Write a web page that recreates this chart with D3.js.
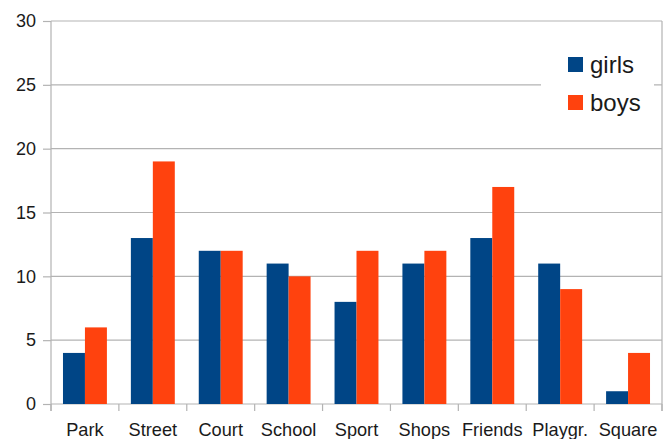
<!DOCTYPE html>
<html>
<head>
<meta charset="utf-8">
<script src="https://cdn.jsdelivr.net/npm/d3@7"></script>
<style>
  html, body { margin: 0; padding: 0; background: #fff; }
  svg { display: block; font-family: "Liberation Sans", Arial, sans-serif; }
</style>
</head>
<body>
<svg id="chart" width="672" height="439"></svg>
<script>
const categories = ["Park", "Street", "Court", "School", "Sport", "Shops", "Friends", "Playgr.", "Square"];
const seriesNames = ["girls", "boys"];
const girls = [4, 13, 12, 11, 8, 11, 13, 11, 1];
const boys = [6, 19, 12, 10, 12, 12, 17, 9, 4];
const yTicks = [0, 5, 10, 15, 20, 25, 30];
const colors = ["#004586", "#ff420e"];

const svg = d3.select("#chart");
const plotLeft = 51, plotRight = 662, plotTop = 21, plotBottom = 404;
const gridColor = "#b3b3b3";
const textColor = "#1a1a1a";

const x = d3.scaleBand().domain(categories).range([plotLeft, plotRight])
  .paddingInner(0.353).paddingOuter(0.1765);
const xs = d3.scaleBand().domain(seriesNames).range([0, x.bandwidth()]);
const y = d3.scaleLinear().domain([0, 30]).range([plotBottom, plotTop]);

// horizontal gridlines
svg.append("g").selectAll("line").data(yTicks).join("line")
  .attr("x1", plotLeft).attr("x2", plotRight)
  .attr("y1", d => y(d)).attr("y2", d => y(d))
  .attr("stroke", gridColor).attr("stroke-width", 1.2);

// right border
svg.append("line").attr("x1", plotRight).attr("x2", plotRight)
  .attr("y1", plotTop).attr("y2", plotBottom + 7)
  .attr("stroke", gridColor).attr("stroke-width", 1.2);

// bars
const rows = categories.map((c, i) => ({ c, vals: [girls[i], boys[i]] }));
const groups = svg.append("g").selectAll("g").data(rows).join("g")
  .attr("transform", d => `translate(${x(d.c)},0)`);
groups.selectAll("rect").data(d => d.vals.map((v, j) => ({ s: seriesNames[j], v, j })))
  .join("rect")
  .attr("x", d => xs(d.s))
  .attr("width", xs.bandwidth())
  .attr("y", d => y(d.v))
  .attr("height", d => y(0) - y(d.v))
  .attr("fill", d => colors[d.j]);

// y axis
const yAxis = d3.axisLeft(y).tickValues(yTicks).tickSize(8).tickPadding(7);
const gy = svg.append("g").attr("transform", `translate(${plotLeft},0)`).call(yAxis);
gy.select(".domain").attr("stroke", gridColor).attr("stroke-width", 1.2)
  .attr("d", `M0,${plotTop}V${plotBottom + 7}`);
gy.selectAll(".tick line").attr("stroke", gridColor).attr("stroke-width", 1.2);
gy.selectAll(".tick text").attr("fill", textColor)
  .style("font-size", "18px").style("font-family", "Liberation Sans, Arial, sans-serif");

// x axis: ticks at category boundaries
const bounds = categories.map(c => x(c) - x.step() * x.paddingInner() / 2).concat([plotRight]);
svg.append("g").selectAll("line").data(bounds).join("line")
  .attr("x1", d => d).attr("x2", d => d)
  .attr("y1", plotBottom).attr("y2", plotBottom + 7)
  .attr("stroke", gridColor).attr("stroke-width", 1.2);
svg.append("g").selectAll("text").data(categories).join("text")
  .attr("x", d => x(d) + x.bandwidth() / 2)
  .attr("y", 436)
  .attr("text-anchor", "middle")
  .attr("fill", textColor)
  .style("font-size", "18.2px")
  .text(d => d);

// legend
const lg = svg.append("g");
lg.append("rect").attr("x", 541).attr("y", 42).attr("width", 113).attr("height", 82).attr("fill", "#fff");
seriesNames.forEach((s, i) => {
  lg.append("rect").attr("x", 568).attr("y", 57 + i * 38).attr("width", 15).attr("height", 15)
    .attr("fill", colors[i]);
  lg.append("text").attr("x", 590).attr("y", 73 + i * 38)
    .attr("fill", textColor).style("font-size", "24px").text(s);
});
</script>
</body>
</html>
